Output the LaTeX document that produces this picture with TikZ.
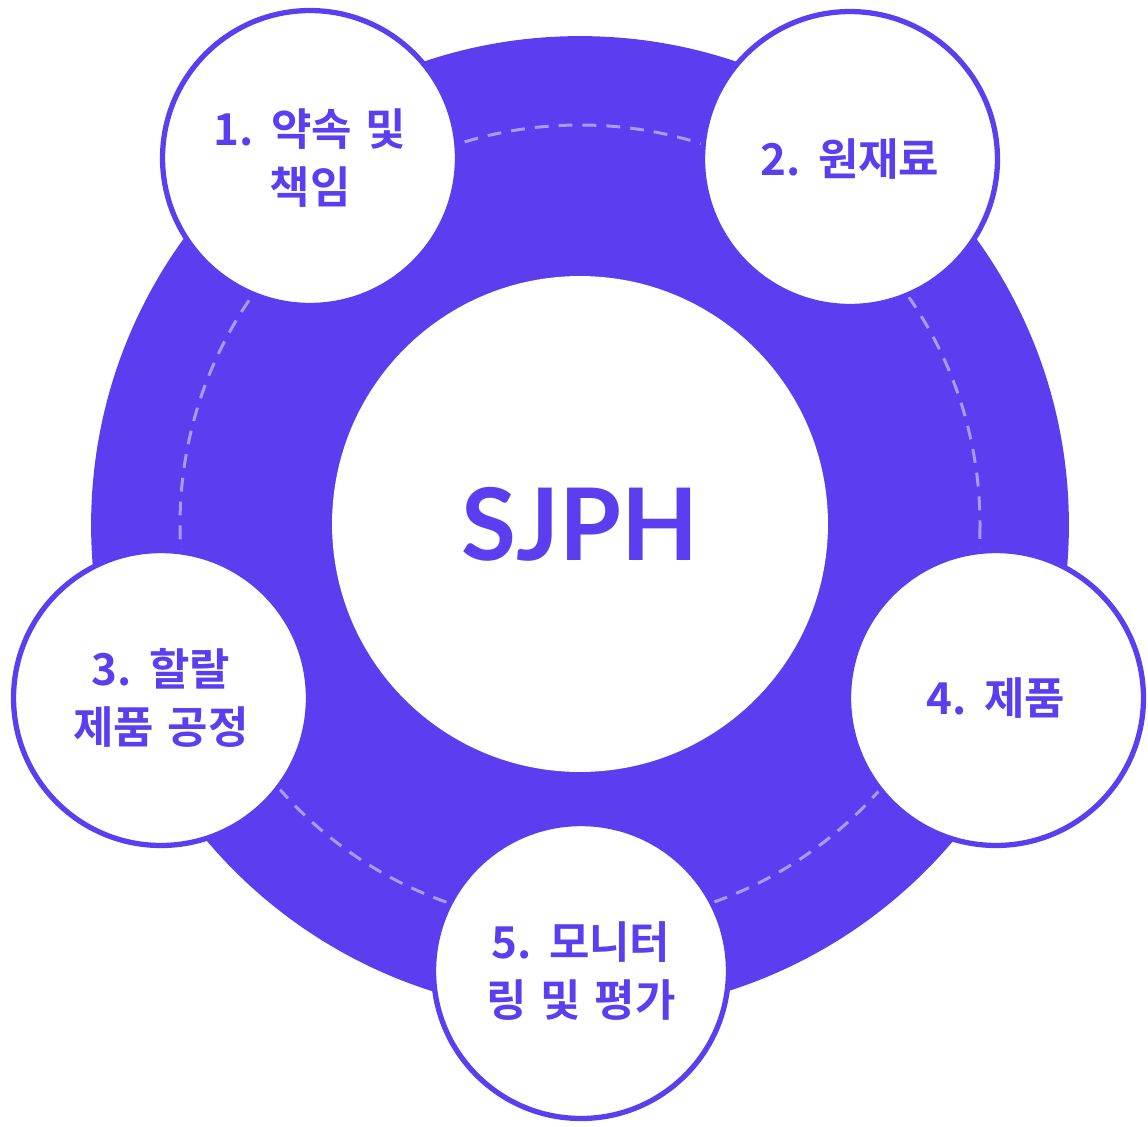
\documentclass[tikz,border=0pt]{standalone}
\usepackage{fontspec}
\setmainfont{Lato}
\newfontfamily\krfont{Noto Sans CJK KR}[BoldFont={Noto Sans CJK KR Bold}, WordSpace=1.4]
\usetikzlibrary{positioning}
\definecolor{sjphpurple}{RGB}{93,61,240}
\definecolor{orbitdash}{RGB}{170,155,246}

\begin{document}
\begin{tikzpicture}[
    x=0.02cm, y=-0.02cm,
    ring/.style={circle, fill=sjphpurple, minimum size=19.56cm, inner sep=0pt},
    hub/.style={circle, fill=white, minimum size=9.92cm, inner sep=0pt, text=sjphpurple, text height=1.44cm, text depth=0pt, font=\fontsize{57}{60}\selectfont\bfseries},
    stage/.style={circle, draw=sjphpurple, line width=3pt, fill=white, minimum size=5.9cm, inner sep=0pt, align=center, text=sjphpurple, font=\krfont\fontsize{25}{33}\selectfont\bfseries},
    orbit/.style={draw=orbitdash, line width=1.7pt, dash pattern=on 7.9pt off 5.7pt}
]
\useasboundingbox (0,0) rectangle (1148,1126);

% Outer ring
\node[ring] (ring) at (580,525) {};
\draw[orbit] (ring.center) circle [radius=400];

% SJPH hub
\node[hub] (hub) at (580,524) {SJPH};

% Stages round the ring
\node[stage] (s1) at (310,158) {1. 약속 및\\책임};
\node[stage] (s2) at (850,159) {2. 원재료};
\node[stage] (s3) at (161,698) {3. 할랄\\제품 공정};
\node[stage] (s4) at (996,698) {4. 제품};
\node[stage] (s5) at (581,971) {5. 모니터\\링 및 평가};

\end{tikzpicture}
\end{document}
